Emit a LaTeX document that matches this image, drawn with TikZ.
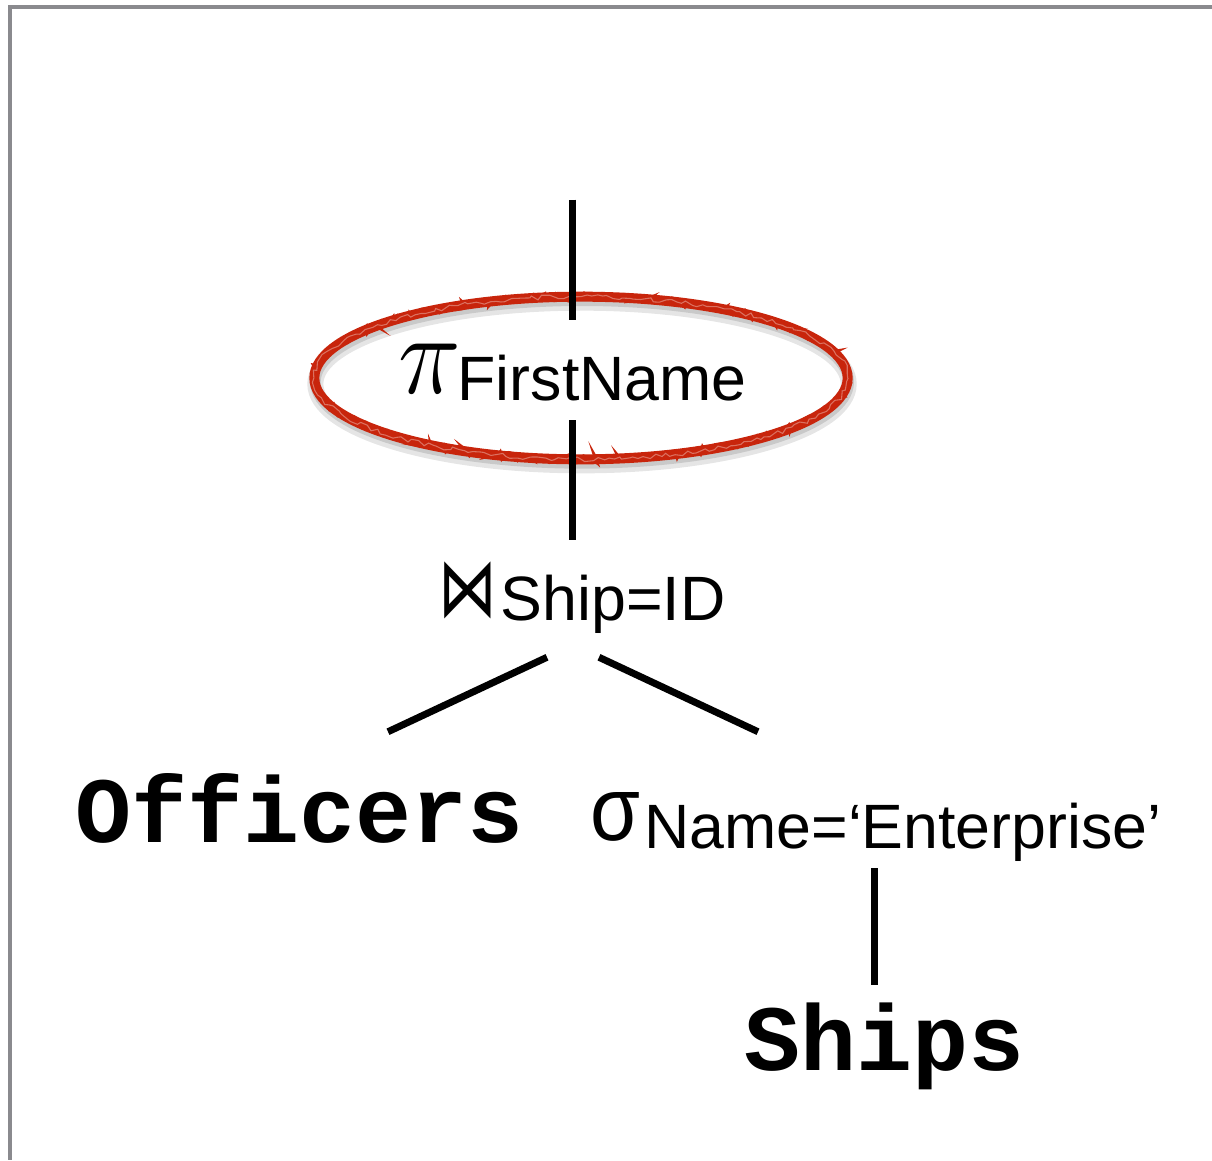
\documentclass[tikz,border=0pt]{standalone}
\usepackage{fontspec}
\usepackage{graphicx}
\setmainfont{Liberation Sans}
\newfontfamily\codefont{Liberation Mono}
\newfontfamily\symfont{DejaVu Sans}
\usetikzlibrary{calc,shapes.geometric,decorations.pathmorphing}
\definecolor{framegray}{HTML}{8A8A8E}
\definecolor{hlred}{HTML}{C8250C}
\begin{document}
\begin{tikzpicture}[x=0.75pt,y=-0.75pt,
  lbl/.style={inner sep=0pt, anchor=base west, font=\fontsize{47pt}{50pt}\selectfont},
  code/.style={inner sep=0pt, anchor=base west, font=\codefont\bfseries\fontsize{70pt}{72pt}\selectfont},
  edge/.style={line width=5.25pt, line cap=butt},
  hl/.style={ellipse, inner sep=0pt, minimum width=400pt, minimum height=122pt}]
\useasboundingbox (0,0) rectangle (1212,1160);
% frame
\fill[framegray] (8,5) rectangle (1212,9);
\fill[framegray] (8,5) rectangle (12,1160);

% labels
\node[lbl, text height=60pt, text depth=15pt] (pi) at (398,400)
  {\raisebox{5pt}{\resizebox{47pt}{37pt}{$\pi$}}\hspace{-2.5pt}FirstName};
\node[lbl, text height=60pt, text depth=27.75pt] (join) at (438,620)
  {\raisebox{3pt}{\resizebox{44pt}{41pt}{\symfont ⋈}}\hspace{3pt}Ship=ID};
\node[code, text height=82.5pt] (off) at (75,842) {Officers};
\node[lbl, text height=87pt, text depth=15pt] (sel) at (590,848)
  {\raisebox{6pt}{\resizebox{37.5pt}{36pt}{σ}}\hspace{3pt}Name=‘Enterprise’};
\node[code, text height=63.75pt] (ships) at (744,1070) {Ships};

% highlight ellipse with shadow
\node[hl, draw=black, opacity=0.10, line width=12pt] (hlshadow) at (582,384) {};
\node[hl, draw=black, opacity=0.12, line width=8pt] (hlshadow2) at (582,382) {};
\node[hl, draw=hlred, line width=7.5pt] (hlmain) at (581,378) {};
\node[hl, draw=hlred, line width=2.5pt, decorate,
  decoration={random steps, segment length=2.5pt, amplitude=2.6pt}] (hltex) at (581,378) {};
\node[hl, draw=white, opacity=0.35, line width=0.8pt, decorate,
  decoration={random steps, segment length=4pt, amplitude=1.8pt}] (hlgrain) at (581,378) {};

% connectors
\coordinate (top) at ($(pi.north)+(0,-120)$);
\coordinate (selfoot) at ($(sel.south west)+(284,0)$);
\draw[edge] (top) -- (pi.north);
\draw[edge] (pi.south) -- (pi.south |- join.north);
\draw[edge] ($(join.south west)+(109,0)$) -- ($(off.north west)+(313,0)$);
\draw[edge] ($(join.south west)+(161,0)$) -- ($(sel.north west)+(168,0)$);
\draw[edge] (selfoot) -- (selfoot |- ships.north);
\end{tikzpicture}
\end{document}
